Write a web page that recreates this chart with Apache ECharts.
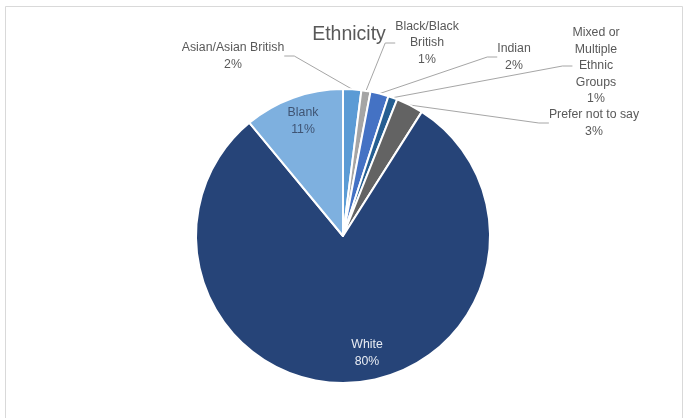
<!DOCTYPE html>
<html>
<head>
<meta charset="utf-8">
<script src="https://cdn.jsdelivr.net/npm/echarts@6/dist/echarts.min.js"></script>
<style>
  html, body { margin: 0; padding: 0; background: #ffffff; }
  #chart { width: 687px; height: 418px; }
</style>
</head>
<body>
<div id="chart"></div>
<script>
// Ethnicity breakdown, clockwise from 12 o'clock
const categories = [
  'Asian/Asian British',
  'Black/Black British',
  'Indian',
  'Mixed or Multiple Ethnic Groups',
  'Prefer not to say',
  'White',
  'Blank'
];
const percentages = [2, 1, 2, 1, 3, 80, 11];

// How each category name is wrapped in its label
const labelNameLines = [
  ['Asian/Asian British'],
  ['Black/Black', 'British'],
  ['Indian'],
  ['Mixed or', 'Multiple', 'Ethnic', 'Groups'],
  ['Prefer not to say'],
  ['White'],
  ['Blank']
];

const sliceColors = ['#5b9bd5', '#a5a5a5', '#4472c4', '#255e91', '#636363', '#264478', '#7eb0df'];
const insideLabel = [false, false, false, false, false, true, true];
// Label centres in pixels
const labelCentres = [
  [233, 56], [427, 43], [514, 57], [596, 66], [594, 123], [367, 353], [303, 121]
];

const chart = echarts.init(document.getElementById('chart'), null, { renderer: 'canvas' });

const data = categories.map((name, i) => ({
  name: name,
  value: percentages[i],
  itemStyle: { color: sliceColors[i] },
  label: insideLabel[i]
    ? { color: i === 5 ? '#e8ecf3' : '#3f5473' }
    : { color: '#595959' },
  labelLine: { show: !insideLabel[i] }
}));

chart.setOption({
  animation: false,
  backgroundColor: '#ffffff',
  title: {
    text: 'Ethnicity',
    left: 344,
    top: 20,
    textAlign: 'center',
    textStyle: {
      fontFamily: 'Liberation Sans',
      fontSize: 19.5,
      fontWeight: 'normal',
      color: '#595959'
    }
  },
  graphic: [{
    type: 'rect',
    shape: { x: 5.5, y: 6.5, width: 677, height: 420 },
    style: { fill: 'none', stroke: '#d9d9d9', lineWidth: 1 },
    silent: true,
    z: -1
  }],
  series: [{
    type: 'pie',
    center: [343, 236],
    radius: [0, 147],
    startAngle: 90,
    clockwise: true,
    data: data,
    itemStyle: { borderColor: '#ffffff', borderWidth: 2 },
    label: {
      show: true,
      fontFamily: 'Liberation Sans',
      fontSize: 12.3,
      lineHeight: 16.5,
      align: 'center',
      formatter: p => labelNameLines[p.dataIndex].join('\n') + '\n' + p.value + '%'
    },
    labelLine: {
      show: true,
      length: 10,
      length2: 10,
      lineStyle: { color: '#a6a6a6', width: 1 }
    },
    labelLayout: p => ({
      x: labelCentres[p.dataIndex][0],
      y: labelCentres[p.dataIndex][1],
      align: 'center',
      verticalAlign: 'middle'
    })
  }]
});
</script>
</body>
</html>
